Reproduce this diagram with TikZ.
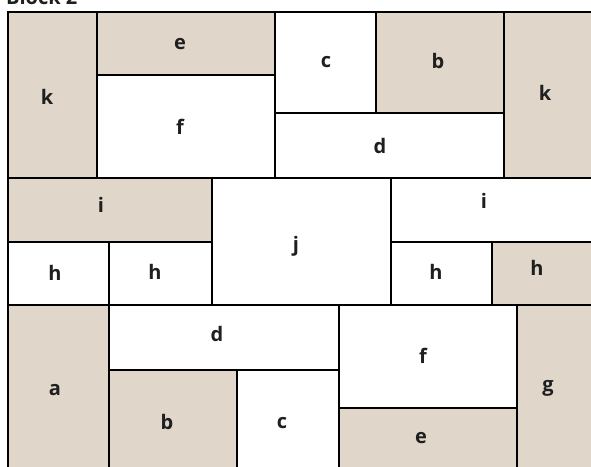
\documentclass[tikz,border=0pt]{standalone}
\usepackage{fontspec}
\setmainfont{Open Sans}
\definecolor{beige}{RGB}{224,214,201}
\tikzset{
  tan/.style={fill=beige,draw=black,line width=2.6pt},
  wht/.style={fill=white,draw=black,line width=2.6pt},
  lbl/.style={font=\fontsize{20}{24}\selectfont\bfseries,text=black!88,inner sep=0pt}
}
\begin{document}
\begin{tikzpicture}[x=1pt,y=-1pt]
\useasboundingbox (0,0) rectangle (591,466);
\clip (0,0) rectangle (591,466);
\fill[white] (0,0) rectangle (591,466);
% title (mostly cut off at the top edge, as in the reference)
\node[lbl,anchor=base west] (title) at (6,4) {Block 2};
% top row
\path[tan] (8,12) rectangle (97,178);
\path[tan] (97,12) rectangle (275,75);
\path[wht] (97,75) rectangle (275,178);
\path[wht] (275,12) rectangle (376,113);
\path[tan] (376,12) rectangle (504,113);
\path[wht] (275,113) rectangle (504,178);
\path[tan] (504,12) rectangle (600,178);
% middle row
\path[tan] (8,178) rectangle (212,242);
\path[wht] (8,242) rectangle (109,305);
\path[wht] (109,242) rectangle (212,305);
\path[wht] (212,178) rectangle (391,305);
\path[wht] (391,178) rectangle (600,242);
\path[wht] (391,242) rectangle (492,305);
\path[tan] (492,242) rectangle (600,305);
% bottom row
\path[tan] (8,305) rectangle (109,480);
\path[wht] (109,305) rectangle (339,370);
\path[tan] (109,370) rectangle (237,480);
\path[wht] (237,370) rectangle (339,480);
\path[wht] (339,305) rectangle (517,408);
\path[tan] (339,408) rectangle (517,480);
\path[tan] (517,305) rectangle (600,480);
% labels
\node[lbl] (k1) at (47,97) {k};
\node[lbl] (e1) at (180,44) {e};
\node[lbl] (f1) at (180,127) {f};
\node[lbl] (c1) at (326,62) {c};
\node[lbl] (b1) at (438,61) {b};
\node[lbl] (d1) at (380,146) {d};
\node[lbl] (k2) at (545,93) {k};
\node[lbl] (i1) at (101,205) {i};
\node[lbl] (h1) at (55,273) {h};
\node[lbl] (h2) at (155,272) {h};
\node[lbl] (j1) at (296,246) {j};
\node[lbl] (i2) at (484,201) {i};
\node[lbl] (h3) at (436,272) {h};
\node[lbl] (h4) at (537,268) {h};
\node[lbl] (a1) at (55,390) {a};
\node[lbl] (d2) at (217,334) {d};
\node[lbl] (b2) at (167,422) {b};
\node[lbl] (c2) at (282,423) {c};
\node[lbl] (f2) at (423,356) {f};
\node[lbl] (e2) at (421,438) {e};
\node[lbl] (g1) at (548,388) {g};
\end{tikzpicture}
\end{document}
